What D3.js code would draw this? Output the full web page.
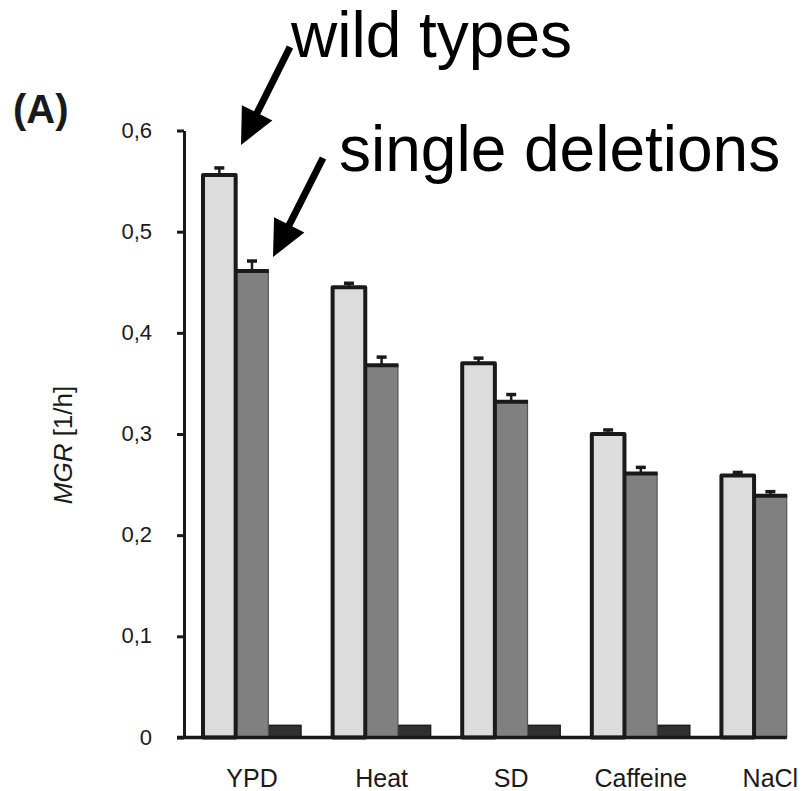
<!DOCTYPE html>
<html>
<head>
<meta charset="utf-8">
<script src="https://cdn.jsdelivr.net/npm/d3@7"></script>
<style>
  body { margin: 0; background: #fff; }
  svg { display: block; font-family: "Liberation Sans", Arial, sans-serif; }
</style>
</head>
<body>
<div id="chart"></div>
<script>
// values (MGR in 1/h)
const categories = ["YPD", "Heat", "SD", "Caffeine", "NaCl"];
const wildTypes = [0.556, 0.445, 0.370, 0.300, 0.259];
const wildTypesErr = [0.007, 0.004, 0.005, 0.004, 0.003];
const singleDeletions = [0.461, 0.368, 0.332, 0.261, 0.239];
const singleDeletionsErr = [0.010, 0.008, 0.007, 0.006, 0.004];
const thirdSeries = [0.012, 0.012, 0.012, 0.012, null];
const yTicks = [0, 0.1, 0.2, 0.3, 0.4, 0.5, 0.6];

const width = 802, height = 791;

const svg = d3.select("#chart")
  .append("svg")
  .attr("width", width)
  .attr("height", height);

// scales
const y = d3.scaleLinear()
  .domain([0, 0.6])
  .range([737.5, 130.5]);

const x0 = d3.scaleBand()
  .domain(categories)
  .range([187.2, 835.2])
  .paddingInner(0.244)
  .paddingOuter(0.122);

const x1 = d3.scaleBand()
  .domain([0, 1, 2])
  .range([0, x0.bandwidth()]);

const axisX = 184;

// y axis
const yAxis = d3.axisLeft(y)
  .tickValues(yTicks)
  .tickSize(7)
  .tickSizeOuter(0)
  .tickPadding(25)
  .tickFormat(d => d === 0 ? "0" : d3.format(".1f")(d).replace(".", ","));

const gy = svg.append("g")
  .attr("transform", `translate(${axisX},0)`)
  .call(yAxis);
gy.select(".domain").attr("stroke", "#1a1a1a").attr("stroke-width", 3);
gy.selectAll(".tick line").attr("stroke", "#1a1a1a").attr("stroke-width", 3);
gy.selectAll(".tick text")
  .attr("fill", "#1a1a1a")
  .style("font-size", "22px")
  .attr("dy", "0.3em");

// groups
const groups = svg.selectAll("g.grp")
  .data(categories)
  .join("g")
  .attr("class", "grp")
  .attr("transform", d => `translate(${x0(d)},0)`);

const bw = x1.bandwidth();

// third (near-black) bars
groups.filter((d, i) => thirdSeries[i] != null)
  .append("rect")
  .attr("x", x1(2))
  .attr("y", d => y(thirdSeries[categories.indexOf(d)]))
  .attr("width", bw)
  .attr("height", d => y(0) - y(thirdSeries[categories.indexOf(d)]))
  .attr("fill", "#303030")
  .attr("stroke", "#1c1c1c")
  .attr("stroke-width", 1.5);

// single deletions (mid gray)
groups.append("rect")
  .attr("x", x1(1))
  .attr("y", (d, i) => y(singleDeletions[i]))
  .attr("width", bw)
  .attr("height", (d, i) => y(0) - y(singleDeletions[i]))
  .attr("fill", "#808080")
  .attr("stroke", "#555")
  .attr("stroke-width", 1.2);

groups.append("line")
  .attr("x1", x1(1))
  .attr("x2", x1(1) + bw + 0.5)
  .attr("y1", (d, i) => y(singleDeletions[i]))
  .attr("y2", (d, i) => y(singleDeletions[i]))
  .attr("stroke", "#1a1a1a")
  .attr("stroke-width", 4);

// wild types (light gray)
groups.append("rect")
  .attr("x", x1(0))
  .attr("y", (d, i) => y(wildTypes[i]))
  .attr("width", bw)
  .attr("height", (d, i) => y(0) - y(wildTypes[i]))
  .attr("fill", "#dcdcdc")
  .attr("stroke", "#1a1a1a")
  .attr("stroke-width", 4)
  .attr("stroke-linejoin", "round");

// error bars
function errorBars(vals, errs, idx) {
  const cx = x1(idx) + bw / 2;
  groups.append("line")
    .attr("x1", cx).attr("x2", cx)
    .attr("y1", (d, i) => y(vals[i]))
    .attr("y2", (d, i) => y(vals[i] + errs[i]))
    .attr("stroke", "#1a1a1a")
    .attr("stroke-width", 2.5);
  groups.append("line")
    .attr("x1", cx - 5).attr("x2", cx + 5)
    .attr("y1", (d, i) => y(vals[i] + errs[i]))
    .attr("y2", (d, i) => y(vals[i] + errs[i]))
    .attr("stroke", "#1a1a1a")
    .attr("stroke-width", 3.5);
}
errorBars(wildTypes, wildTypesErr, 0);
errorBars(singleDeletions, singleDeletionsErr, 1);

// x axis line
svg.append("line")
  .attr("x1", axisX - 7)
  .attr("x2", x0("NaCl") + x1(1) + bw)
  .attr("y1", y(0))
  .attr("y2", y(0))
  .attr("stroke", "#1a1a1a")
  .attr("stroke-width", 3.5);

// category labels
svg.selectAll("text.cat")
  .data(categories)
  .join("text")
  .attr("class", "cat")
  .attr("x", d => x0(d) + x0.bandwidth() / 2)
  .attr("y", 787)
  .attr("text-anchor", "middle")
  .attr("fill", "#1a1a1a")
  .style("font-size", "25px")
  .text(d => d);

// y label
const yl = svg.append("text")
  .attr("transform", "translate(72,445) rotate(-90)")
  .attr("text-anchor", "middle")
  .attr("fill", "#1a1a1a")
  .style("font-size", "26px");
yl.append("tspan").style("font-style", "italic").text("MGR");
yl.append("tspan").text(" [1/h]");

// panel letter
svg.append("text")
  .attr("x", 13)
  .attr("y", 123)
  .style("font-size", "40px")
  .style("font-weight", "bold")
  .attr("fill", "#1a1a1a")
  .text("(A)");

// annotations
svg.append("text")
  .attr("x", 291)
  .attr("y", 57)
  .style("font-size", "64px")
  .attr("fill", "#000")
  .text("wild types");

svg.append("text")
  .attr("x", 339)
  .attr("y", 171)
  .style("font-size", "64px")
  .attr("fill", "#000")
  .text("single deletions");

function arrow(sx, sy, tx, ty) {
  const dx = tx - sx, dy = ty - sy;
  const len = Math.hypot(dx, dy);
  const ux = dx / len, uy = dy / len;
  const L = 36, w = 17;
  const bx = tx - L * ux, by = ty - L * uy;
  svg.append("line")
    .attr("x1", sx).attr("y1", sy)
    .attr("x2", bx + 2 * ux).attr("y2", by + 2 * uy)
    .attr("stroke", "#000")
    .attr("stroke-width", 7);
  svg.append("polygon")
    .attr("points", [
      [tx, ty],
      [bx - w * uy, by + w * ux],
      [bx + w * uy, by - w * ux]
    ].map(p => p.join(",")).join(" "))
    .attr("fill", "#000");
}
arrow(290, 47, 241, 145);
arrow(323, 158, 273, 257);
</script>
</body>
</html>
